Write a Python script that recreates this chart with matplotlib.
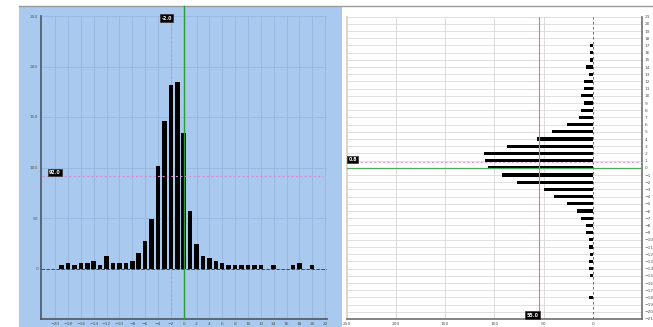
import numpy as np
import matplotlib.pyplot as plt
from matplotlib.patches import Rectangle
from matplotlib.lines import Line2D

# 左图: 水平方向偏差的直方图
x_pos = np.arange(-21, 22)
x_count = [0, 0, 3, 5, 3, 5, 5, 7, 3, 12, 5, 5, 5, 7, 15, 27, 49, 101, 146, 182, 185,
           134, 57, 24, 12, 10, 7, 5, 3, 3, 3, 3, 3, 3, 0, 3, 0, 0, 3, 5, 0, 3, 0]
x_ticks = np.arange(-20, 23, 2)
count_ticks = np.arange(0, 251, 50)

# 右图: 垂直方向偏差的直方图 (横向条形)
y_pos = np.arange(21, -22, -1)
y_count = [0, 0, 0, 0, 3, 3, 3, 7, 4, 9, 9, 12, 9, 12, 14, 26, 41, 57, 87, 111, 109,
           106, 92, 77, 50, 39, 26, 16, 12, 7, 7, 4, 4, 3, 4, 4, 3, 0, 0, 4, 0, 0, 0]
y_ticks = np.arange(21, -22, -1)
hcount_ticks = [250, 200, 150, 100, 50, 0]

# 参考线
x_mean = -2.0
x_level = 92
y_mean = 0.8
y_level = 55
x_mean_txt = "-2.0"
x_level_txt = "92.0"
y_mean_txt = "0.8"
y_level_txt = "55.0"

W, H = 653, 327
fig = plt.figure(figsize=(W / 100, H / 100), dpi=100)

blue = '#a9c9ee'
grid_blue = '#95b7df'
# 左侧蓝色面板 + 顶部边框
fig.patches.append(Rectangle((19 / W, 0), (342 - 19) / W, (H - 6) / H,
                             transform=fig.transFigure, facecolor=blue,
                             edgecolor='none', zorder=-5))
fig.lines.append(Line2D([19 / W, 1], [(H - 6) / H] * 2, transform=fig.transFigure,
                        color='#9a9a9a', lw=1.0, zorder=-4))

tick_kw = dict(labelsize=3.2, labelcolor='#555555', length=0, pad=2)
lab_box = dict(boxstyle='square,pad=0.25', facecolor='black', edgecolor='#333333', lw=0.5)

######## 左图 ########
ax1 = fig.add_axes([41 / W, (H - 319) / H, (327 - 41) / W, (319 - 16) / H])
ax1.set_facecolor('none')
ax1.set_xlim(-22.2, 22.3)
ax1.set_ylim(-50, 250)
for v in x_ticks:
    ax1.axvline(v, color=grid_blue, lw=0.6, zorder=1)
for v in count_ticks:
    ax1.axhline(v, color=grid_blue, lw=0.6, zorder=1)
ax1.axhline(0, color='#333333', lw=0.6, ls=(0, (4, 2)), zorder=2)
ax1.plot([x_mean, x_mean], [-45, 243], color='#d88ad0', lw=0.8, ls=(0, (2, 2)), zorder=2.5)
ax1.bar(x_pos, x_count, width=0.7, color='black', zorder=3)
ax1.plot([-22, 21.6], [x_level, x_level], color='#d88ad0', lw=0.8, ls=(0, (2, 2)), zorder=4)
ax1.plot([0, 0], [-50, 260], color='#2e9a3e', lw=1.0, zorder=5, clip_on=False)
ax1.text(x_mean + 0.2, 248, x_mean_txt, ha='right', va='center', fontsize=3.4,
         color='white', fontweight='bold', bbox=lab_box, zorder=6)
ax1.text(-21.0, x_level + 3, x_level_txt, ha='left', va='center', fontsize=3.4,
         color='white', fontweight='bold', bbox=lab_box, zorder=6)
ax1.set_xticks(x_ticks)
ax1.set_yticks(count_ticks)
ax1.tick_params(**tick_kw)
for s in ['top', 'right']:
    ax1.spines[s].set_visible(False)
for s in ['left', 'bottom']:
    ax1.spines[s].set_color('#4a5868')
    ax1.spines[s].set_linewidth(1.2)

######## 右图 ########
ax2 = fig.add_axes([346.7 / W, (H - 319) / H, (642 - 346.7) / W, (319 - 16.7) / H])
ax2.set_facecolor('white')
ax2.set_xlim(250, -50)
ax2.set_ylim(-21, 21)
for v in y_ticks:
    ax2.axhline(v, color='#dadada', lw=0.6, zorder=1)
for v in [200, 150, 100, 50]:
    ax2.axvline(v, color='#d4d4d4', lw=0.6, zorder=1)
ax2.axvline(0, color='#555555', lw=0.6, ls=(0, (3, 3)), zorder=2)
ax2.barh(y_pos, y_count, height=0.45, color='black', zorder=3)
ax2.axvline(y_level, color='#ec6f8c', lw=0.8, zorder=4)
ax2.axhline(0, color='#4caa5a', lw=0.9, zorder=4)
ax2.axhline(y_mean, color='#e59ae0', lw=0.8, ls=(0, (2, 2)), zorder=4)
ax2.text(y_level, -20.45, y_level_txt, ha='right', va='center', fontsize=3.4,
         color='white', fontweight='bold', bbox=lab_box, zorder=6)
ax2.text(248, y_mean + 0.35, y_mean_txt, ha='left', va='center', fontsize=3.4,
         color='white', fontweight='bold', bbox=lab_box, zorder=6)
ax2.set_xticks(hcount_ticks)
ax2.set_yticks(y_ticks)
ax2.yaxis.tick_right()
ax2.tick_params(**tick_kw)
ax2.spines['top'].set_visible(False)
ax2.spines['left'].set_color('#dcd8c8')
ax2.spines['left'].set_linewidth(1.5)
for s in ['right', 'bottom']:
    ax2.spines[s].set_color('#6e6e6e')
    ax2.spines[s].set_linewidth(1.2)

fig.savefig('out.png', dpi=100)
